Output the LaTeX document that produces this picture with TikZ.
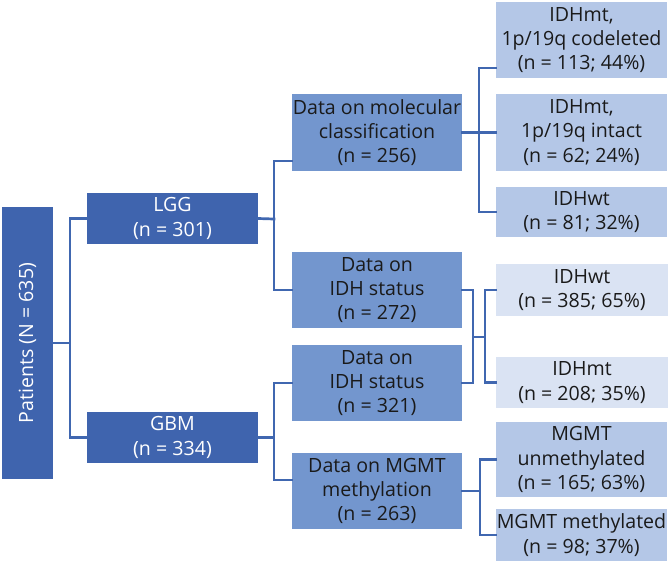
\documentclass[tikz,border=0pt]{standalone}
\usepackage{fontspec}
\setmainfont{Open Sans}
\definecolor{cdark}{HTML}{3F64AE}
\definecolor{cmed}{HTML}{7396CE}
\definecolor{clight}{HTML}{B4C7E7}
\definecolor{cvlight}{HTML}{DAE3F3}
\definecolor{cline}{HTML}{4067B0}
\definecolor{ctext}{HTML}{1A1A1A}
\begin{document}
\begin{tikzpicture}[x=1pt,y=-1pt,
  box/.style={inner sep=0pt, align=center, font=\fontsize{19.6}{24.2}\selectfont},
  darkbox/.style={box, fill=cdark, text=white},
  medbox/.style={box, fill=cmed, text=ctext, minimum width=170pt},
  lightbox/.style={box, fill=clight, text=ctext, minimum width=171pt},
  vlightbox/.style={box, fill=cvlight, text=ctext, minimum width=172pt},
  conn/.style={draw=cline, line width=2.7pt, line cap=rect}]
\useasboundingbox (0,0) rectangle (668,563);
% level 0
\node[darkbox, minimum width=51pt, minimum height=272pt] (pat) at (27.5,343) {};
\node[darkbox, rotate=90] (patlbl) at (pat.center) {Patients (N = 635)};
% level 1
\node[darkbox, minimum width=171pt, minimum height=51pt] (lgg) at (172.5,218.5) {LGG\\(n = 301)};
\node[darkbox, minimum width=171pt, minimum height=51pt] (gbm) at (172.5,437.5) {GBM\\(n = 334)};
% level 2
\node[medbox, minimum height=77pt] (mol) at (377,132.5) {Data on molecular\\classification\\(n = 256)};
\node[medbox, minimum height=76pt] (idha) at (377,290) {Data on\\IDH status\\(n = 272)};
\node[medbox, minimum height=76pt] (idhb) at (377,383) {Data on\\IDH status\\(n = 321)};
\node[medbox, minimum height=76pt] (mgmt) at (377,491) {Data on MGMT\\methylation\\(n = 263)};
% level 3
\node[lightbox, minimum height=76pt] (ra) at (581.5,40) {IDHmt,\\1p/19q codeleted\\(n = 113; 44\%)};
\node[lightbox, minimum height=77pt] (rb) at (581.5,132.5) {IDHmt,\\1p/19q intact\\(n = 62; 24\%)};
\node[lightbox, minimum height=50pt] (rc) at (581.5,212) {IDHwt\\(n = 81; 32\%)};
\node[vlightbox, minimum height=52pt] (wt) at (582,290) {IDHwt\\(n = 385; 65\%)};
\node[vlightbox, minimum height=51pt] (mt) at (582,382.5) {IDHmt\\(n = 208; 35\%)};
\node[lightbox, minimum height=75pt] (mu) at (581.5,459.5) {MGMT\\unmethylated\\(n = 165; 63\%)};
\node[lightbox, minimum height=52pt] (mm) at (581.5,535) {MGMT methylated\\(n = 98; 37\%)};
% junctions
\coordinate (j1) at (70,343);
\coordinate (j2) at (274,219);
\coordinate (j3) at (274,437.5);
\coordinate (j4) at (479,132.5);
\coordinate (ja) at (473,337);
\coordinate (jb) at (485,337);
\coordinate (jc) at (480,491);
\coordinate (molin) at ([yshift=-28.5pt]mol.west);
\coordinate (mgin) at ([yshift=11pt]mgmt.west);
\coordinate (rain) at ([yshift=-28pt]ra.west);
% connectors
\draw[conn] (pat.east |- j1) -- (j1);
\draw[conn] (lgg.west) -| (j1) |- (gbm.west);
\draw[conn] (lgg.east) -- (j2);
\draw[conn] (molin) -| (j2) |- (idha.west);
\draw[conn] (gbm.east) -- (j3);
\draw[conn] (idhb.west) -| (j3) |- (mgin);
\draw[conn] (mol.east) -- (rb.west);
\draw[conn] (rain) -| (j4) |- (rc.west);
\draw[conn] (idha.east) -| (ja) |- (idhb.east);
\draw[conn] (ja) -- (jb);
\draw[conn] (wt.west) -| (jb) |- (mt.west);
\draw[conn] (mgmt.east) -- (jc);
\draw[conn] (mu.west) -| (jc) |- (mm.west);
\end{tikzpicture}
\end{document}
